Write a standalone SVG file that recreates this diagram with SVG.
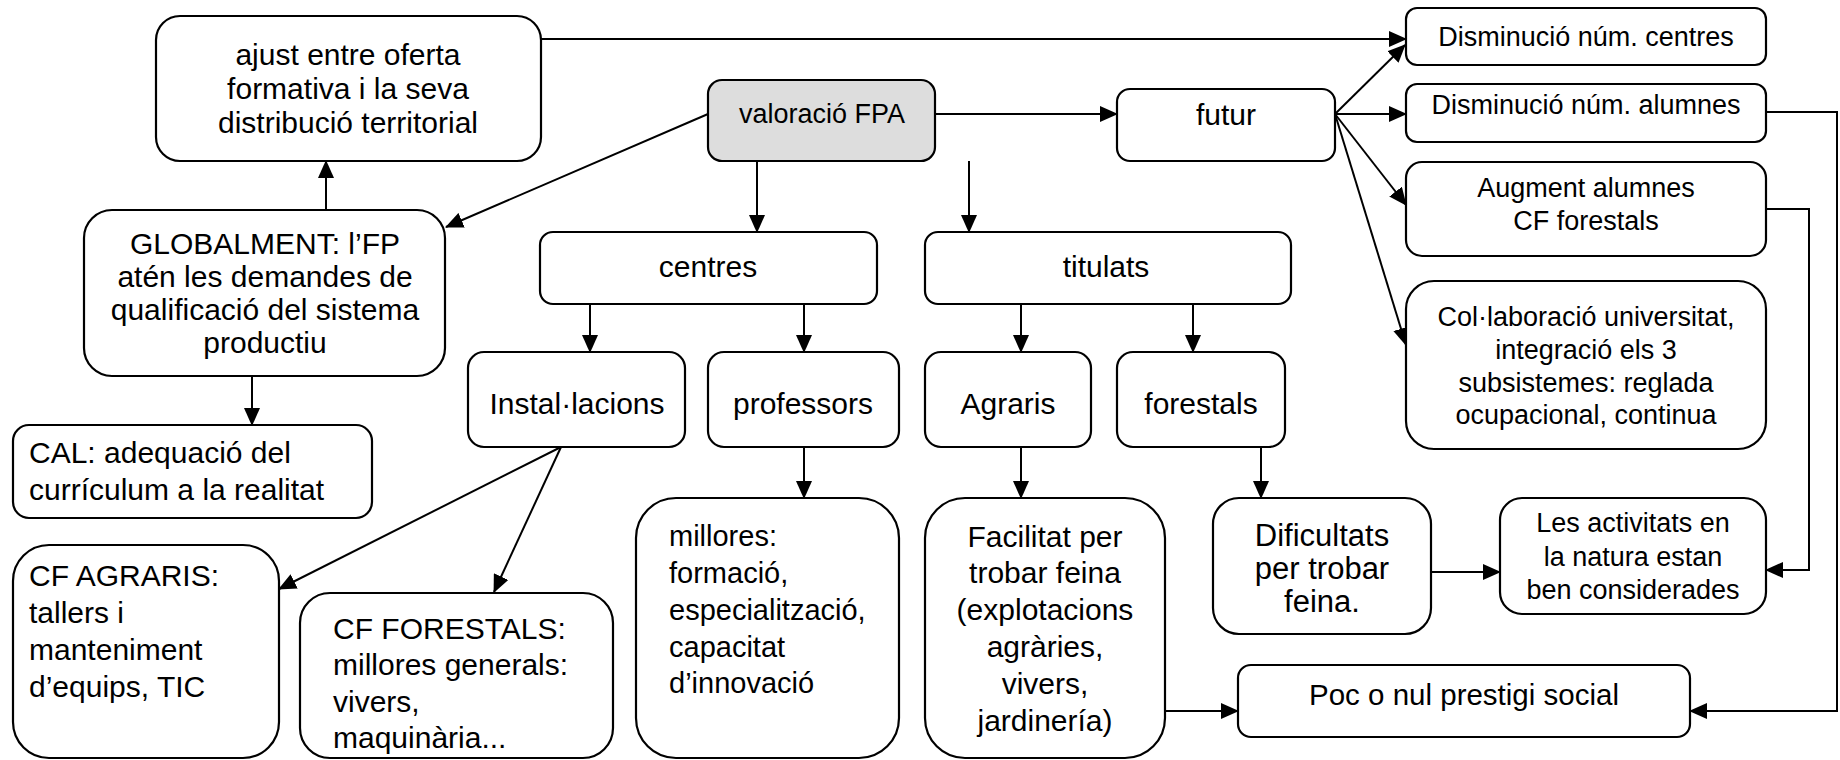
<svg xmlns="http://www.w3.org/2000/svg" width="1840" height="760" viewBox="0 0 1840 760">
<defs>
<marker id="ah" markerUnits="userSpaceOnUse" markerWidth="18" markerHeight="16" refX="17" refY="8" orient="auto">
<path d="M0,0 L18,8 L0,16 z" fill="#000"/>
</marker>
<style>
rect{fill:#fff;stroke:#000;stroke-width:2.2}
text{font-family:"Liberation Sans",Arial,sans-serif;font-size:27px;fill:#000}
.c{text-anchor:middle}
.m{font-size:30px}
#conn line,#conn polyline{stroke:#000;stroke-width:2;fill:none;marker-end:url(#ah)}
</style>
</defs>
<rect x="0" y="0" width="1840" height="760" style="fill:#fff;stroke:none"/>

<g id="conn">
<line x1="541" y1="39" x2="1406" y2="39"/>
<line x1="935" y1="114" x2="1117" y2="114"/>
<line x1="1335" y1="114" x2="1405" y2="45"/>
<line x1="1335" y1="114" x2="1406" y2="114"/>
<line x1="1335" y1="114" x2="1406" y2="205"/>
<line x1="1335" y1="114" x2="1406" y2="345"/>
<line x1="708" y1="114" x2="446" y2="227"/>
<line x1="757" y1="161" x2="757" y2="232"/>
<line x1="969" y1="161" x2="969" y2="232"/>
<line x1="590" y1="304" x2="590" y2="352"/>
<line x1="804" y1="304" x2="804" y2="352"/>
<line x1="1021" y1="304" x2="1021" y2="352"/>
<line x1="1193" y1="304" x2="1193" y2="352"/>
<line x1="326" y1="210" x2="326" y2="161"/>
<line x1="252" y1="376" x2="252" y2="425"/>
<line x1="561" y1="447" x2="279" y2="589"/>
<line x1="561" y1="447" x2="494" y2="592"/>
<line x1="804" y1="447" x2="804" y2="498"/>
<line x1="1021" y1="447" x2="1021" y2="498"/>
<line x1="1261" y1="447" x2="1261" y2="498"/>
<line x1="1165" y1="711" x2="1238" y2="711"/>
<line x1="1431" y1="572" x2="1500" y2="572"/>
<polyline points="1766,112 1837,112 1837,711 1690,711"/>
<polyline points="1766,209 1809,209 1809,570 1766,570"/>
</g>

<g id="ajust"><rect x="156" y="16" width="385" height="145" rx="24"/>
<text class="c m" x="348" y="65">ajust entre oferta</text>
<text class="c m" x="348" y="99">formativa i la seva</text>
<text class="c m" x="348" y="133">distribució territorial</text></g>

<g id="valoracio"><rect x="708" y="80" width="227" height="81" rx="14" style="fill:#dddddd"/>
<text class="c" x="822" y="123" style="font-size:27px">valoració FPA</text></g>

<g id="futur"><rect x="1117" y="89" width="218" height="72" rx="13"/>
<text class="c m" x="1226" y="125">futur</text></g>

<g id="dism-centres"><rect x="1406" y="8" width="360" height="57" rx="11"/>
<text class="c" x="1586" y="46">Disminució núm. centres</text></g>

<g id="dism-alumnes"><rect x="1406" y="84" width="360" height="58" rx="11"/>
<text class="c" x="1586" y="114">Disminució núm. alumnes</text></g>

<g id="augment"><rect x="1406" y="162" width="360" height="94" rx="16"/>
<text class="c" x="1586" y="197">Augment alumnes</text>
<text class="c" x="1586" y="230">CF forestals</text></g>

<g id="collaboracio"><rect x="1406" y="281" width="360" height="168" rx="28"/>
<text class="c" x="1586" y="326">Col·laboració universitat,</text>
<text class="c" x="1586" y="359">integració els 3</text>
<text class="c" x="1586" y="392">subsistemes: reglada</text>
<text class="c" x="1586" y="424">ocupacional, continua</text></g>

<g id="globalment"><rect x="84" y="210" width="361" height="166" rx="28"/>
<text class="c m" x="265" y="254">GLOBALMENT: l’FP</text>
<text class="c m" x="265" y="287">atén les demandes de</text>
<text class="c m" x="265" y="320">qualificació del sistema</text>
<text class="c m" x="265" y="353">productiu</text></g>

<g id="centres"><rect x="540" y="232" width="337" height="72" rx="13"/>
<text class="c m" x="708" y="277">centres</text></g>

<g id="titulats"><rect x="925" y="232" width="366" height="72" rx="13"/>
<text class="c m" x="1106" y="277">titulats</text></g>

<g id="installacions"><rect x="468" y="352" width="217" height="95" rx="16"/>
<text class="c m" x="577" y="414">Instal·lacions</text></g>

<g id="professors"><rect x="708" y="352" width="191" height="95" rx="16"/>
<text class="c m" x="803" y="414">professors</text></g>

<g id="agraris"><rect x="925" y="352" width="166" height="95" rx="16"/>
<text class="c m" x="1008" y="414">Agraris</text></g>

<g id="forestals"><rect x="1117" y="352" width="168" height="95" rx="16"/>
<text class="c m" x="1201" y="414">forestals</text></g>

<g id="cal"><rect x="13" y="425" width="359" height="93" rx="16"/>
<text class="m" x="29" y="463">CAL: adequació del</text>
<text class="m" x="29" y="500">currículum a la realitat</text></g>

<g id="cf-agraris"><rect x="13" y="545" width="266" height="213" rx="36"/>
<text class="m" x="29" y="586">CF AGRARIS:</text>
<text class="m" x="29" y="623">tallers i</text>
<text class="m" x="29" y="660">manteniment</text>
<text class="m" x="29" y="697">d’equips, TIC</text></g>

<g id="cf-forestals"><rect x="300" y="593" width="313" height="165" rx="30"/>
<text class="m" x="333" y="639">CF FORESTALS:</text>
<text class="m" x="333" y="675">millores generals:</text>
<text class="m" x="333" y="712">vivers,</text>
<text class="m" x="333" y="748">maquinària...</text></g>

<g id="millores"><rect x="636" y="498" width="263" height="260" rx="40"/>
<text x="669" y="546" style="font-size:29px">millores:</text>
<text x="669" y="583" style="font-size:29px">formació,</text>
<text x="669" y="620" style="font-size:29px">especialització,</text>
<text x="669" y="657" style="font-size:29px">capacitat</text>
<text x="669" y="693" style="font-size:29px">d’innovació</text></g>

<g id="facilitat"><rect x="925" y="498" width="240" height="260" rx="40"/>
<text class="c m" x="1045" y="547">Facilitat per</text>
<text class="c m" x="1045" y="583">trobar feina</text>
<text class="c m" x="1045" y="620">(explotacions</text>
<text class="c m" x="1045" y="657">agràries,</text>
<text class="c m" x="1045" y="694">vivers,</text>
<text class="c m" x="1045" y="731">jardinería)</text></g>

<g id="dificultats"><rect x="1213" y="498" width="218" height="136" rx="26"/>
<text class="c" x="1322" y="546" style="font-size:31px">Dificultats</text>
<text class="c" x="1322" y="579" style="font-size:31px">per trobar</text>
<text class="c" x="1322" y="612" style="font-size:31px">feina.</text></g>

<g id="activitats"><rect x="1500" y="498" width="266" height="116" rx="22"/>
<text class="c" x="1633" y="532">Les activitats en</text>
<text class="c" x="1633" y="566">la natura estan</text>
<text class="c" x="1633" y="599">ben considerades</text></g>

<g id="prestigi"><rect x="1238" y="665" width="452" height="72" rx="13"/>
<text class="c" x="1464" y="705" style="font-size:29.5px">Poc o nul prestigi social</text></g>
</svg>
